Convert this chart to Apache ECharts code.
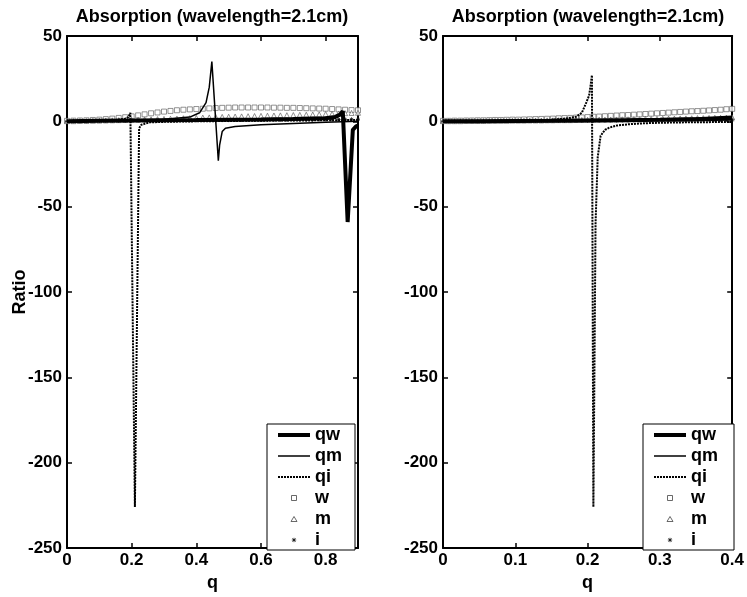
<!DOCTYPE html>
<html>
<head>
<meta charset="utf-8">
<script src="https://cdn.jsdelivr.net/npm/echarts@6/dist/echarts.min.js"></script>
<style>
  html, body { margin: 0; padding: 0; background: #fff; }
  #chart { width: 747px; height: 597px; }
</style>
</head>
<body>
<div id="chart"></div>
<script>
// values
const titleText = 'Absorption (wavelength=2.1cm)';

// left panel, q from 0 to 0.9
const qwLeftQ = [0, 0.1, 0.2, 0.3, 0.4, 0.5, 0.6, 0.7, 0.8, 0.83, 0.845, 0.853, 0.868, 0.884, 0.894, 0.9];
const qwLeftV = [0, 0.3, 0.5, 0.7, 0.8, 1.0, 1.1, 1.3, 1.8, 2.6, 4, 6, -59, -5, -3, -2.5];
const qmLeftQ = [0, 0.1, 0.2, 0.3, 0.38, 0.41, 0.43, 0.44, 0.448, 0.468, 0.472, 0.48, 0.49, 0.52, 0.6, 0.7, 0.8, 0.9];
const qmLeftV = [0, 0.2, 0.5, 1.2, 2.5, 5, 11, 20, 35, -23, -14, -6, -4, -3, -2, -1.2, -0.6, 0];
const qiLeftQ = [0, 0.05, 0.1, 0.15, 0.18, 0.19, 0.196, 0.21, 0.223, 0.23, 0.256, 0.3, 0.4, 0.5, 0.6, 0.7, 0.8, 0.9];
const qiLeftV = [0, 0.2, 0.4, 0.8, 1.5, 2.5, 5, -226, -4, -2, -0.6, -0.3, 0, 0.2, 0.4, 0.5, 0.6, 0.8];

const markerQLeft = [0, 0.02, 0.04, 0.06, 0.08, 0.1, 0.12, 0.14, 0.16, 0.18, 0.2, 0.22, 0.24, 0.26, 0.28,
  0.3, 0.32, 0.34, 0.36, 0.38, 0.4, 0.42, 0.44, 0.46, 0.48, 0.5, 0.52, 0.54, 0.56, 0.58,
  0.6, 0.62, 0.64, 0.66, 0.68, 0.7, 0.72, 0.74, 0.76, 0.78, 0.8, 0.82, 0.84, 0.86, 0.88, 0.9];
const wLeft = [0.3, 0.4, 0.5, 0.6, 0.8, 1.0, 1.3, 1.6, 2.0, 2.4, 2.9, 3.5, 4.1, 4.7, 5.2,
  5.7, 6.1, 6.5, 6.8, 7.0, 7.2, 7.4, 7.6, 7.8, 7.9, 8.0, 8.1, 8.1, 8.1, 8.1,
  8.1, 8.1, 8.0, 8.0, 7.9, 7.9, 7.8, 7.7, 7.6, 7.5, 7.4, 7.2, 7.0, 6.8, 6.6, 6.5];
const mLeft = [0.1, 0.1, 0.2, 0.2, 0.3, 0.4, 0.5, 0.6, 0.7, 0.8, 0.9, 1.0, 1.1, 1.2, 1.3,
  1.4, 1.5, 1.6, 1.8, 1.9, 2.0, 2.2, 2.3, 2.5, 2.6, 2.7, 2.8, 2.9, 3.0, 3.1,
  3.2, 3.3, 3.4, 3.5, 3.6, 3.7, 3.8, 3.9, 4.0, 4.1, 4.3, 4.4, 4.6, 4.8, 4.9, 5.0];
const iLeft = [0, 0.1, 0.1, 0.1, 0.2, 0.2, 0.2, 0.3, 0.3, 0.3, 0.4, 0.4, 0.4, 0.5, 0.5,
  0.5, 0.5, 0.6, 0.6, 0.6, 0.6, 0.7, 0.7, 0.7, 0.7, 0.7, 0.8, 0.8, 0.8, 0.8,
  0.8, 0.9, 0.9, 0.9, 0.9, 1.0, 1.0, 1.0, 1.0, 1.1, 1.1, 1.1, 1.1, 1.2, 1.2, 1.2];

// right panel, q from 0 to 0.4
const qwRightQ = [0, 0.05, 0.1, 0.15, 0.2, 0.25, 0.3, 0.35, 0.4];
const qwRightV = [0, 0.1, 0.2, 0.3, 0.5, 0.7, 0.9, 1.2, 1.5];
const qmRightQ = [0, 0.1, 0.2, 0.25, 0.3, 0.35, 0.4];
const qmRightV = [0, 0.2, 0.6, 0.9, 1.3, 2.0, 3.0];
const qiRightQ = [0, 0.05, 0.1, 0.15, 0.17, 0.184, 0.192, 0.198, 0.202, 0.204, 0.206, 0.208, 0.211, 0.214,
  0.218, 0.224, 0.23, 0.24, 0.257, 0.28, 0.303, 0.35, 0.4];
const qiRightV = [0, 0.2, 0.4, 0.9, 1.6, 2.7, 5, 10.8, 15, 20.5, 27, -226, -60, -21,
  -8.5, -5, -3.7, -2.5, -1.7, -1.1, -0.8, -0.5, -0.4];

const markerQRight = [0, 0.008, 0.016, 0.024, 0.032, 0.04, 0.048, 0.056, 0.064, 0.072, 0.08, 0.088, 0.096,
  0.104, 0.112, 0.12, 0.128, 0.136, 0.144, 0.152, 0.16, 0.168, 0.176, 0.184, 0.192, 0.2,
  0.208, 0.216, 0.224, 0.232, 0.24, 0.248, 0.256, 0.264, 0.272, 0.28, 0.288, 0.296, 0.304,
  0.312, 0.32, 0.328, 0.336, 0.344, 0.352, 0.36, 0.368, 0.376, 0.384, 0.392, 0.4];
const wRight = [0.3, 0.3, 0.4, 0.4, 0.5, 0.5, 0.6, 0.6, 0.7, 0.8, 0.8, 0.9, 1.0,
  1.0, 1.1, 1.2, 1.3, 1.4, 1.5, 1.6, 1.8, 1.9, 2.0, 2.2, 2.3, 2.5,
  2.7, 2.8, 3.0, 3.2, 3.4, 3.6, 3.7, 3.9, 4.1, 4.3, 4.5, 4.7, 4.9,
  5.1, 5.3, 5.5, 5.7, 5.9, 6.0, 6.2, 6.4, 6.6, 6.8, 7.1, 7.3];
const mRight = [0.1, 0.1, 0.1, 0.1, 0.2, 0.2, 0.2, 0.2, 0.3, 0.3, 0.3, 0.3, 0.4,
  0.4, 0.4, 0.5, 0.5, 0.5, 0.6, 0.6, 0.7, 0.7, 0.7, 0.8, 0.8, 0.9,
  0.9, 1.0, 1.0, 1.1, 1.1, 1.2, 1.2, 1.3, 1.3, 1.4, 1.4, 1.5, 1.5,
  1.6, 1.6, 1.7, 1.7, 1.8, 1.9, 1.9, 2.0, 2.1, 2.1, 2.2, 2.3];
const iRight = [0, 0, 0, 0.1, 0.1, 0.1, 0.1, 0.1, 0.1, 0.1, 0.2, 0.2, 0.2,
  0.2, 0.2, 0.2, 0.3, 0.3, 0.3, 0.3, 0.3, 0.3, 0.4, 0.4, 0.4, 0.4,
  0.4, 0.4, 0.5, 0.5, 0.5, 0.5, 0.5, 0.5, 0.6, 0.6, 0.6, 0.6, 0.6,
  0.6, 0.7, 0.7, 0.7, 0.7, 0.7, 0.7, 0.8, 0.8, 0.8, 0.8, 0.8];

const font = 'Liberation Sans, Arial, sans-serif';
const asterisk = 'path://M5 0L5 10M0 5L10 5M1.5 1.5L8.5 8.5M8.5 1.5L1.5 8.5';

// legend icons for the markers: the leading moves span the full 32x6 icon box,
// so the small marker stays unstretched in the middle
const squareIcon = 'path://M0 0M32 6M13.5 0.5H18.5V5.5H13.5Z';
const triangleIcon = 'path://M0 0M32 6M16 0.5L19 5.5L13 5.5Z';
const asteriskIcon = 'path://M0 0M32 6M16 0.8V5.2M13.8 3H18.2M14.4 1.4L17.6 4.6M17.6 1.4L14.4 4.6';

const pairs = (qs, vs) => qs.map((q, k) => [q, vs[k]]);

function bottomAxis(grid, max, interval) {
  return {
    type: 'value', gridIndex: grid, position: 'bottom', min: 0, max: max, interval: interval,
    name: 'q', nameLocation: 'middle', nameGap: 26, nameMoveOverlap: false,
    nameTextStyle: { fontFamily: font, fontWeight: 'bold', fontSize: 18, color: '#000' },
    axisLine: { show: true, onZero: false, lineStyle: { color: '#000', width: 2 } },
    axisTick: { show: true, inside: true, length: 5, lineStyle: { color: '#000', width: 1.5 } },
    axisLabel: { showMaxLabel: max === 0.4, margin: 4, fontFamily: font, fontWeight: 'bold', fontSize: 17, color: '#000' },
    splitLine: { show: false }
  };
}
function topAxis(grid, max, interval) {
  return {
    type: 'value', gridIndex: grid, position: 'top', min: 0, max: max, interval: interval,
    axisLine: { show: true, onZero: false, lineStyle: { color: '#000', width: 2 } },
    axisTick: { show: true, inside: true, length: 5, lineStyle: { color: '#000', width: 1.5 } },
    axisLabel: { show: false }, splitLine: { show: false }
  };
}
function leftAxis(grid, withName) {
  return {
    type: 'value', gridIndex: grid, position: 'left', min: -250, max: 50, interval: 50,
    name: withName ? 'Ratio' : '', nameLocation: 'middle', nameGap: 38, nameMoveOverlap: false,
    nameTextStyle: { fontFamily: font, fontWeight: 'bold', fontSize: 18, color: '#000' },
    axisLine: { show: true, onZero: false, lineStyle: { color: '#000', width: 2 } },
    axisTick: { show: true, inside: true, length: 5, lineStyle: { color: '#000', width: 1.5 } },
    axisLabel: { margin: 5, fontFamily: font, fontWeight: 'bold', fontSize: 17, color: '#000' },
    splitLine: { show: false }
  };
}
function rightAxis(grid) {
  return {
    type: 'value', gridIndex: grid, position: 'right', min: -250, max: 50, interval: 50,
    axisLine: { show: true, onZero: false, lineStyle: { color: '#000', width: 2 } },
    axisTick: { show: true, inside: true, length: 5, lineStyle: { color: '#000', width: 1.5 } },
    axisLabel: { show: false }, splitLine: { show: false }
  };
}

function panelSeries(ax, d) {
  return [
    { name: 'qw', type: 'line', xAxisIndex: ax, yAxisIndex: ax, data: pairs(d.qwQ, d.qwV), symbol: 'none',
      itemStyle: { color: '#000' }, lineStyle: { color: '#000', width: 4 } },
    { name: 'qm', type: 'line', xAxisIndex: ax, yAxisIndex: ax, data: pairs(d.qmQ, d.qmV), symbol: 'none',
      itemStyle: { color: '#000' }, lineStyle: { color: '#000', width: 1.5 } },
    { name: 'qi', type: 'line', xAxisIndex: ax, yAxisIndex: ax, data: pairs(d.qiQ, d.qiV), symbol: 'none',
      itemStyle: { color: '#000' }, lineStyle: { color: '#000', width: 2, type: [2, 1] } },
    { name: 'w', type: 'scatter', xAxisIndex: ax, yAxisIndex: ax, data: pairs(d.mq, d.w), symbol: 'rect', symbolSize: 5,
      itemStyle: { color: '#fff', borderColor: '#555', borderWidth: 0.8 } },
    { name: 'm', type: 'scatter', xAxisIndex: ax, yAxisIndex: ax, data: pairs(d.mq, d.m), symbol: 'triangle', symbolSize: 5,
      itemStyle: { color: '#fff', borderColor: '#555', borderWidth: 0.8 } },
    { name: 'i', type: 'scatter', xAxisIndex: ax, yAxisIndex: ax, data: pairs(d.mq, d.i), symbol: asterisk, symbolSize: 4,
      itemStyle: { color: 'transparent', borderColor: '#111', borderWidth: 1 } }
  ];
}

function legendAt(left, padRight) {
  return {
    orient: 'vertical', left: left, top: 424,
    padding: [2, padRight, 1, 9],
    itemWidth: 32, itemHeight: 6, itemGap: 3,
    borderColor: '#000', borderWidth: 1, backgroundColor: '#fff',
    textStyle: { fontFamily: font, fontWeight: 'bold', fontSize: 18, color: '#000' },
    data: [
      { name: 'qw', itemStyle: { opacity: 0 }, lineStyle: { width: 4, color: '#000' } },
      { name: 'qm', itemStyle: { opacity: 0 }, lineStyle: { width: 1.5, color: '#000' } },
      { name: 'qi', itemStyle: { opacity: 0 }, lineStyle: { width: 2, color: '#000', type: [2, 1] } },
      { name: 'w', icon: squareIcon, itemStyle: { color: '#fff', borderColor: '#444', borderWidth: 1 } },
      { name: 'm', icon: triangleIcon, itemStyle: { color: '#fff', borderColor: '#444', borderWidth: 1 } },
      { name: 'i', icon: asteriskIcon, itemStyle: { color: 'transparent', borderColor: '#111', borderWidth: 1 } }
    ]
  };
}

const chart = echarts.init(document.getElementById('chart'));
chart.setOption({
  animation: false,
  backgroundColor: '#fff',
  title: [
    { text: titleText, left: 212, top: 8, padding: 0, textAlign: 'center',
      textStyle: { fontFamily: font, fontWeight: 'bold', fontSize: 18, color: '#000' } },
    { text: titleText, left: 588, top: 8, padding: 0, textAlign: 'center',
      textStyle: { fontFamily: font, fontWeight: 'bold', fontSize: 18, color: '#000' } }
  ],
  legend: [legendAt(267, 13), legendAt(643, 16)],
  grid: [
    { left: 67, top: 36, width: 291, height: 517 },
    { left: 443, top: 36, width: 291, height: 517 }
  ],
  xAxis: [bottomAxis(0, 0.9, 0.2), topAxis(0, 0.9, 0.2), bottomAxis(1, 0.4, 0.1), topAxis(1, 0.4, 0.1)],
  yAxis: [leftAxis(0, true), rightAxis(0), leftAxis(1, false), rightAxis(1)],
  series: [].concat(
    panelSeries(0, { qwQ: qwLeftQ, qwV: qwLeftV, qmQ: qmLeftQ, qmV: qmLeftV, qiQ: qiLeftQ, qiV: qiLeftV,
      mq: markerQLeft, w: wLeft, m: mLeft, i: iLeft }),
    panelSeries(2, { qwQ: qwRightQ, qwV: qwRightV, qmQ: qmRightQ, qmV: qmRightV, qiQ: qiRightQ, qiV: qiRightV,
      mq: markerQRight, w: wRight, m: mRight, i: iRight })
  )
});
</script>
</body>
</html>
